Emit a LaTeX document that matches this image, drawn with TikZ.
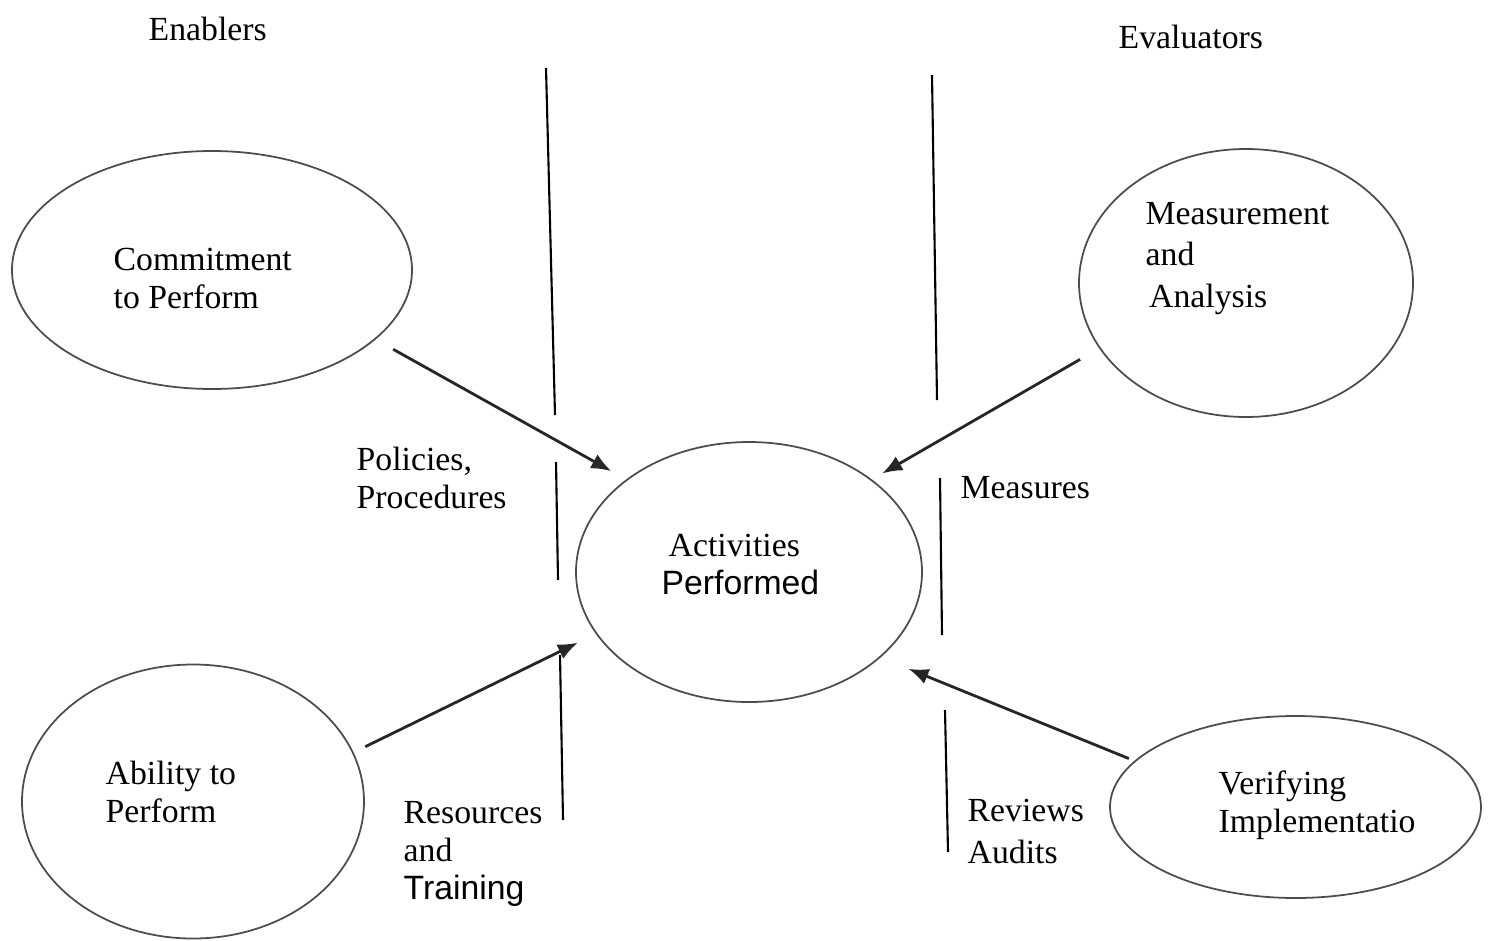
\documentclass[tikz,border=0pt]{standalone}
\usepackage{fontspec}
\setmainfont{Liberation Serif}
\newfontfamily\plainsans{Liberation Sans}
\usetikzlibrary{shapes,arrows.meta}
\tikzset{
    oval/.style = {draw, ellipse, color=black!70, line width=0.5pt, inner sep=0pt},
    lbl/.style = {anchor=base west, inner sep=0pt, align=left,
        font=\fontsize{9.6}{10.8}\selectfont},
    arrow/.style = {draw, -{Latex[length=2mm,width=1.6mm]}, line width=0.8pt, black!85},
    divider/.style = {draw, line width=0.6pt}
}

\begin{document}
\begin{tikzpicture}
    \useasboundingbox (0,0) rectangle (14.9,9.4);
    % the five ovals
    \node[oval, minimum width=4cm, minimum height=2.38cm] (commit) at (2.12,6.70) {};
    \node[oval, minimum width=3.34cm, minimum height=2.68cm] (meas) at (12.46,6.57) {};
    \node[oval, minimum width=3.46cm, minimum height=2.6cm] (act) at (7.49,3.68) {};
    \node[oval, minimum width=3.42cm, minimum height=2.74cm] (able) at (1.93,1.385) {};
    \node[oval, minimum width=3.71cm, minimum height=1.82cm] (verif) at (12.955,1.33) {};
    % headings
    \node[lbl] (enablers) at (1.48,9.00) {Enablers};
    \node[lbl] (evaluators) at (11.18,8.92) {Evaluators};
    % texts inside the ovals (placed by the baseline of the last line)
    \node[lbl] (committxt) at (1.13,6.32) {Commitment\\to Perform};
    \node[lbl] (meastxt) at (11.45,6.33) {Measurement\\[1pt]and\\[1pt]\hspace*{1pt}Analysis};
    \node[lbl] (acttxt) at (6.61,3.46) {\hspace*{2pt}Activities\\{\plainsans Performed}};
    \node[lbl] (abletxt) at (1.05,1.18) {Ability to\\Perform};
    \node[lbl] (veriftxt) at (12.18,1.08) {Verifying\\Implementatio};
    % labels along the arrows
    \node[lbl] (policies) at (3.56,4.32) {Policies,\\Procedures};
    \node[lbl] (measures) at (9.60,4.42) {Measures};
    \node[lbl] (resources) at (4.03,0.41) {Resources\\and\\{\plainsans Training}};
    \node[lbl] (reviews) at (9.67,0.77) {Reviews\\[1pt]Audits};
    % broken divider lines
    \draw[divider] (5.46,8.72) -- (5.55,5.25);
    \draw[divider] (5.56,4.78) -- (5.58,3.60);
    \draw[divider] (5.60,2.85) -- (5.63,1.20);
    \draw[divider] (9.32,8.65) -- (9.37,5.40);
    \draw[divider] (9.40,4.62) -- (9.42,3.05);
    \draw[divider] (9.45,2.30) -- (9.48,0.88);
    % arrows into the middle oval
    \draw[arrow, shorten <=2mm, shorten >=1.7mm] (commit.-23) -- (act.143);
    \draw[arrow, shorten <=1.3mm, shorten >=2mm] (able.17) -- (act.-158);
    \draw[arrow, shorten <=2.2mm, shorten >=1.2mm] (meas.204) -- (act.37);
    \draw[arrow, shorten <=0.6mm, shorten >=3mm] (verif.164) -- (act.-33);
\end{tikzpicture}
\end{document}
